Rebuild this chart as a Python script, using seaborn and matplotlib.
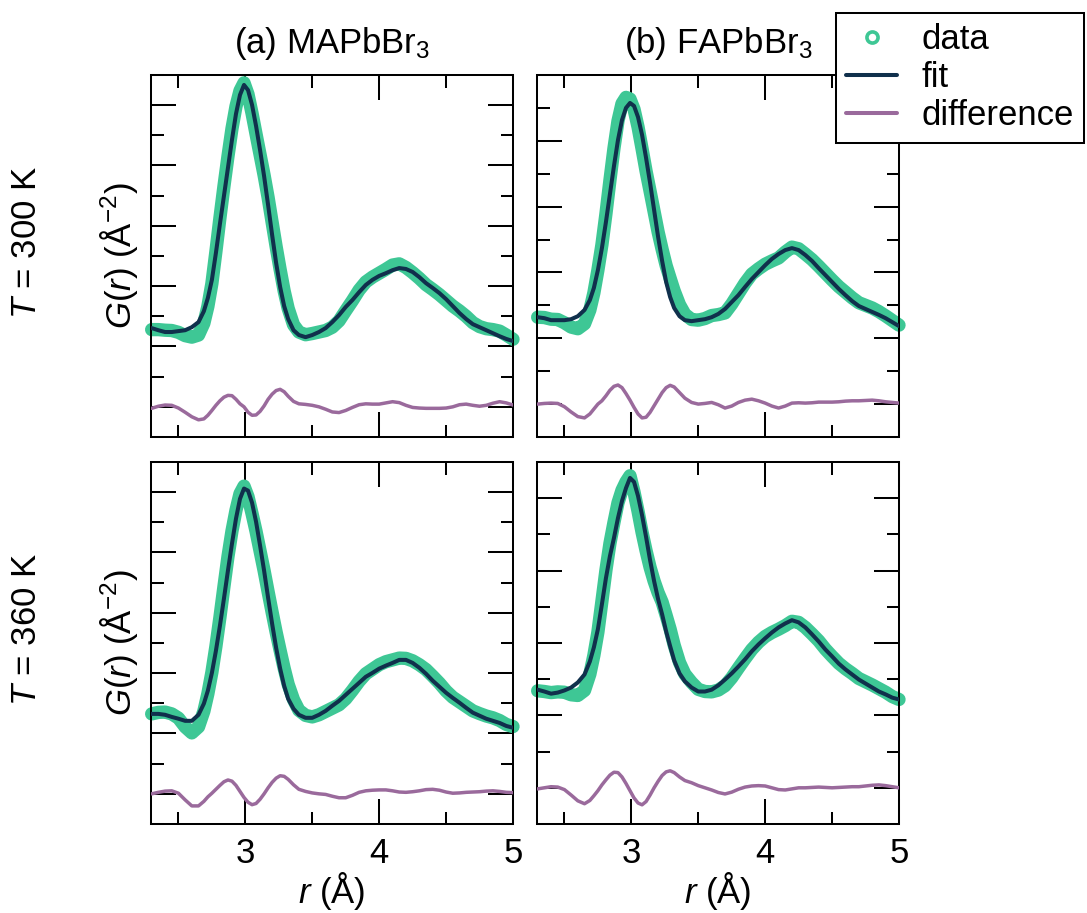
import matplotlib

matplotlib.use("Agg")
import matplotlib.pyplot as plt
import pandas as pd
import seaborn as sns
from matplotlib.lines import Line2D
from matplotlib.ticker import MultipleLocator

# r grid (Angstrom), shared by all four panels
R = [2.30, 2.35, 2.40, 2.45, 2.50, 2.55, 2.60, 2.65,
     2.69, 2.72, 2.75, 2.78, 2.81, 2.84, 2.87, 2.90, 2.93, 2.96, 2.99, 3.02, 3.05,
     3.08, 3.11, 3.14, 3.17, 3.20, 3.23, 3.26, 3.29, 3.32,
     3.36, 3.40,
     3.45, 3.50, 3.55, 3.60, 3.65, 3.70, 3.75, 3.80, 3.85, 3.90, 3.95, 4.00, 4.05, 4.10,
     4.15, 4.20, 4.25, 4.30, 4.35, 4.40, 4.45, 4.50, 4.55, 4.60, 4.65, 4.70, 4.75, 4.80,
     4.85, 4.90, 4.95, 5.00]

# (a) MAPbBr3, 300 K
MA300_DATA = [2.56, 2.56, 2.54, 2.53, 2.47, 2.36, 2.31, 2.38,
              2.77, 3.33, 4.09, 5.15, 6.26, 7.31, 8.30, 9.22, 9.96, 10.48, 10.74, 10.36, 9.73,
              9.04, 8.36, 7.68, 6.94, 6.12, 5.31, 4.55, 3.84, 3.26,
              2.72, 2.48,
              2.39, 2.43, 2.48, 2.53, 2.64, 2.85, 3.19, 3.52, 3.87, 4.14, 4.30, 4.43, 4.56, 4.70,
              4.74, 4.62, 4.45, 4.26, 4.05, 3.89, 3.72, 3.53, 3.34, 3.18, 3.00, 2.79, 2.66, 2.59,
              2.56, 2.51, 2.38, 2.24]
MA300_FIT = [2.61, 2.54, 2.48, 2.48, 2.51, 2.54, 2.64, 2.81,
             3.17, 3.61, 4.21, 5.10, 6.06, 6.99, 7.92, 8.85, 9.71, 10.34, 10.67, 10.50, 10.01,
             9.31, 8.51, 7.65, 6.69, 5.70, 4.77, 3.97, 3.34, 2.91,
             2.54, 2.38,
             2.31, 2.38, 2.48, 2.61, 2.81, 3.04, 3.31, 3.54, 3.80, 4.04, 4.21, 4.34, 4.43, 4.53,
             4.60, 4.57, 4.47, 4.30, 4.10, 3.94, 3.77, 3.57, 3.34, 3.11, 2.91, 2.74, 2.64, 2.54,
             2.44, 2.34, 2.25, 2.18]
MA300_DIFF = [-0.05, 0.02, 0.06, 0.05, -0.04, -0.18, -0.33, -0.43,
              -0.40, -0.28, -0.12, 0.05, 0.20, 0.32, 0.38, 0.37, 0.25, 0.10, 0.00, -0.18, -0.28,
              -0.27, -0.15, 0.03, 0.25, 0.42, 0.54, 0.58, 0.50, 0.35,
              0.18, 0.10,
              0.08, 0.05, 0.00, -0.08, -0.17, -0.19, -0.12, -0.02, 0.07, 0.10, 0.09, 0.09, 0.13, 0.17,
              0.14, 0.05, -0.02, -0.04, -0.05, -0.05, -0.05, -0.04, 0.00, 0.07, 0.09, 0.05, 0.02, 0.05,
              0.12, 0.17, 0.13, 0.06]

# (b) FAPbBr3, 300 K
FA300_DATA = [2.64, 2.63, 2.58, 2.57, 2.47, 2.34, 2.29, 2.44,
              2.86, 3.38, 4.07, 4.84, 5.78, 6.80, 7.77, 8.60, 9.13, 9.32, 9.27, 8.96, 8.42,
              7.76, 7.08, 6.47, 5.85, 5.23, 4.70, 4.21, 3.82, 3.44,
              3.02, 2.73,
              2.57, 2.55, 2.60, 2.69, 2.72, 2.77, 3.04, 3.36, 3.68, 3.95, 4.11, 4.25, 4.35, 4.44,
              4.62, 4.77, 4.72, 4.56, 4.39, 4.19, 3.98, 3.77, 3.57, 3.40, 3.23, 3.08, 3.00, 2.92,
              2.81, 2.68, 2.54, 2.40]
FA300_FIT = [2.64, 2.61, 2.55, 2.55, 2.55, 2.58, 2.67, 2.86,
             3.16, 3.53, 4.07, 4.74, 5.53, 6.38, 7.23, 8.02, 8.63, 9.00, 9.15, 9.06, 8.72,
             8.18, 7.48, 6.72, 5.90, 5.08, 4.35, 3.71, 3.25, 2.92,
             2.67, 2.55,
             2.52, 2.55, 2.58, 2.64, 2.74, 2.89, 3.10, 3.31, 3.56, 3.80, 4.01, 4.22, 4.41, 4.56,
             4.68, 4.74, 4.68, 4.53, 4.35, 4.13, 3.92, 3.71, 3.50, 3.31, 3.13, 2.98, 2.89, 2.80,
             2.71, 2.61, 2.49, 2.37]
FA300_DIFF = [0.00, 0.02, 0.03, 0.02, -0.08, -0.24, -0.38, -0.42,
              -0.30, -0.15, 0.00, 0.10, 0.25, 0.42, 0.54, 0.58, 0.50, 0.32, 0.12, -0.10, -0.30,
              -0.42, -0.40, -0.25, -0.05, 0.15, 0.35, 0.50, 0.57, 0.52,
              0.35, 0.18,
              0.05, 0.00, 0.02, 0.05, -0.02, -0.12, -0.06, 0.05, 0.12, 0.15, 0.10, 0.03, -0.06, -0.12,
              -0.06, 0.03, 0.04, 0.03, 0.04, 0.06, 0.06, 0.06, 0.07, 0.09, 0.10, 0.10, 0.11, 0.12,
              0.10, 0.07, 0.05, 0.03]

# (a) MAPbBr3, 360 K
MA360_DATA = [2.65, 2.70, 2.71, 2.65, 2.51, 2.22, 2.02, 2.22,
              2.74, 3.32, 4.03, 4.89, 5.85, 6.87, 7.86, 8.71, 9.40, 9.95, 10.20, 9.85, 9.29,
              8.70, 8.05, 7.40, 6.70, 6.02, 5.36, 4.75, 4.16, 3.63,
              3.12, 2.77,
              2.60, 2.55, 2.62, 2.73, 2.84, 2.95, 3.15, 3.43, 3.73, 3.98, 4.13, 4.28, 4.38, 4.44,
              4.50, 4.49, 4.41, 4.28, 4.12, 3.90, 3.67, 3.41, 3.20, 3.05, 2.90, 2.75, 2.66, 2.58,
              2.52, 2.43, 2.30, 2.23]
MA360_FIT = [2.65, 2.65, 2.62, 2.55, 2.49, 2.42, 2.42, 2.62,
             2.99, 3.42, 4.01, 4.74, 5.57, 6.47, 7.40, 8.29, 9.12, 9.78, 10.12, 10.05, 9.65,
             9.02, 8.23, 7.40, 6.50, 5.64, 4.84, 4.15, 3.58, 3.15,
             2.82, 2.62,
             2.52, 2.52, 2.62, 2.75, 2.92, 3.08, 3.28, 3.48, 3.68, 3.88, 4.01, 4.15, 4.25, 4.34,
             4.44, 4.44, 4.34, 4.18, 3.98, 3.75, 3.55, 3.35, 3.18, 3.02, 2.85, 2.69, 2.59, 2.49,
             2.42, 2.35, 2.25, 2.19]
MA360_DIFF = [0.00, 0.05, 0.09, 0.10, 0.02, -0.20, -0.40, -0.40,
              -0.25, -0.10, 0.02, 0.15, 0.28, 0.40, 0.46, 0.42, 0.28, 0.08, -0.12, -0.28, -0.36,
              -0.32, -0.18, 0.00, 0.20, 0.38, 0.52, 0.60, 0.58, 0.48,
              0.30, 0.15,
              0.08, 0.03, 0.00, -0.02, -0.08, -0.13, -0.13, -0.05, 0.05, 0.10, 0.12, 0.13, 0.13, 0.10,
              0.06, 0.05, 0.07, 0.10, 0.14, 0.15, 0.12, 0.06, 0.02, 0.03, 0.05, 0.06, 0.07, 0.09,
              0.10, 0.08, 0.05, 0.04]

# (b) FAPbBr3, 360 K
FA360_DATA = [2.68, 2.66, 2.63, 2.65, 2.64, 2.57, 2.55, 2.69,
              3.14, 3.66, 4.30, 5.15, 6.01, 6.75, 7.33, 7.87, 8.22, 8.45, 8.62, 8.17, 7.64,
              7.06, 6.55, 6.09, 5.71, 5.39, 5.13, 4.76, 4.38, 3.94,
              3.46, 3.14,
              2.91, 2.72, 2.66, 2.65, 2.70, 2.82, 3.04, 3.31, 3.57, 3.82, 4.02, 4.18, 4.29, 4.38,
              4.48, 4.60, 4.57, 4.43, 4.25, 4.06, 3.83, 3.63, 3.44, 3.29, 3.16, 3.02, 2.93, 2.84,
              2.74, 2.64, 2.52, 2.44]
FA360_FIT = [2.71, 2.66, 2.60, 2.63, 2.69, 2.77, 2.91, 3.13,
             3.49, 3.88, 4.38, 5.07, 5.79, 6.40, 6.90, 7.45, 7.92, 8.28, 8.56, 8.45, 8.06,
             7.53, 6.93, 6.29, 5.71, 5.21, 4.79, 4.32, 3.91, 3.52,
             3.16, 2.94,
             2.77, 2.66, 2.66, 2.71, 2.83, 2.99, 3.16, 3.35, 3.55, 3.77, 3.96, 4.13, 4.29, 4.43,
             4.54, 4.63, 4.57, 4.43, 4.24, 4.04, 3.82, 3.63, 3.43, 3.27, 3.13, 2.99, 2.88, 2.77,
             2.66, 2.58, 2.49, 2.44]
FA360_DIFF = [-0.03, 0.00, 0.03, 0.02, -0.05, -0.20, -0.36, -0.44,
              -0.35, -0.22, -0.08, 0.08, 0.22, 0.35, 0.43, 0.42, 0.30, 0.12, -0.08, -0.28, -0.42,
              -0.47, -0.38, -0.20, 0.00, 0.18, 0.34, 0.44, 0.47, 0.42,
              0.30, 0.20,
              0.14, 0.06, 0.00, -0.06, -0.13, -0.17, -0.12, -0.04, 0.02, 0.05, 0.06, 0.05, 0.00, -0.05,
              -0.06, -0.03, 0.00, 0.00, 0.01, 0.02, 0.01, 0.00, 0.01, 0.02, 0.03, 0.03, 0.05, 0.07,
              0.08, 0.06, 0.03, 0.00]

COLUMN_TITLES = ["(a) MAPbBr$_3$", "(b) FAPbBr$_3$"]
ROW_LABELS = ["$T$ = 300 K", "$T$ = 360 K"]
SERIES_LABELS = ["data", "fit", "difference"]

GREEN = "#3ec795"
NAVY = "#10304c"
PURPLE = "#9a6a9c"
FS = 25

sns.set_style("ticks", rc={"axes.edgecolor": "black", "xtick.color": "black",
                           "ytick.color": "black", "axes.linewidth": 1.45,
                           "text.color": "black", "axes.labelcolor": "black"})
plt.rcParams["font.family"] = ["Liberation Sans", "DejaVu Sans"]
plt.rcParams["mathtext.fontset"] = "custom"
plt.rcParams["mathtext.rm"] = "Liberation Sans"
plt.rcParams["mathtext.it"] = "Liberation Sans:italic"
plt.rcParams["mathtext.bf"] = "Liberation Sans:bold"

W, H = 1087, 913
fig = plt.figure(figsize=(W / 100, H / 100), dpi=100)

panels = [
    # (row, col, data, fit, diff, ymax)
    (0, 0, MA300_DATA, MA300_FIT, MA300_DIFF, 11),
    (0, 1, FA300_DATA, FA300_FIT, FA300_DIFF, 10),
    (1, 0, MA360_DATA, MA360_FIT, MA360_DIFF, 11),
    (1, 1, FA360_DATA, FA360_FIT, FA360_DIFF, 9),
]
lefts = [151, 537]
tops = [75, 462]
side = 362

for row, col, data, fit, diff, ymax in panels:
    ax = fig.add_axes([lefts[col] / W, 1 - (tops[row] + side) / H, side / W, side / H])
    df = pd.DataFrame({"r": R, "data": data, "fit": fit, "difference": diff})
    sns.lineplot(data=df, x="r", y="data", color=GREEN, linewidth=9.6,
                 solid_capstyle="round", clip_on=False, zorder=2, ax=ax)
    sns.lineplot(data=df, x="r", y="fit", color=NAVY, linewidth=2.9, zorder=3, ax=ax)
    sns.lineplot(data=df, x="r", y="difference", color=PURPLE, linewidth=2.5, zorder=3, ax=ax)

    ax.set_xlim(2.295, 5.0)
    ax.set_ylim(-1, ymax)
    ax.xaxis.set_major_locator(MultipleLocator(1))
    ax.xaxis.set_minor_locator(MultipleLocator(0.5))
    ax.yaxis.set_major_locator(MultipleLocator(2))
    ax.yaxis.set_minor_locator(MultipleLocator(1))
    ax.tick_params(which="both", direction="in", top=True, right=True, width=1.45,
                   labelleft=False, labelsize=FS, pad=9)
    ax.tick_params(which="major", length=18)
    ax.tick_params(which="minor", length=9)
    for s in ax.spines.values():
        s.set_linewidth(1.45)

    if row == 0:
        ax.set_title(COLUMN_TITLES[col], fontsize=FS, pad=16)
        ax.tick_params(labelbottom=False)
        ax.set_xlabel("")
    else:
        ax.set_xlabel("$r$ (Å)", fontsize=FS, labelpad=0)
    if col == 0:
        ax.set_ylabel("$\\mathit{G(r)}$ (Å$^{-2}$)", fontsize=FS, labelpad=8)
    else:
        ax.set_ylabel("")

for row, label in enumerate(ROW_LABELS):
    yc = tops[row] + side / 2 - 14
    fig.text(27 / W, 1 - yc / H, label, rotation=90, ha="center", va="center", fontsize=FS)

handles = [
    Line2D([], [], ls="none", marker="o", ms=8, mfc="none", mec=GREEN, mew=2.6),
    Line2D([], [], color=NAVY, lw=2.9),
    Line2D([], [], color=PURPLE, lw=2.9),
]
leg = fig.legend(handles, SERIES_LABELS, loc="upper left",
                 bbox_to_anchor=(836 / W, 1 - 13 / H), fontsize=FS, frameon=True,
                 fancybox=False, edgecolor="black", framealpha=1, handlelength=1.45,
                 handletextpad=0.7, labelspacing=0.14, borderpad=0.3, borderaxespad=0)
leg.get_frame().set_linewidth(1.45)

fig.savefig("out.png", dpi=100)
